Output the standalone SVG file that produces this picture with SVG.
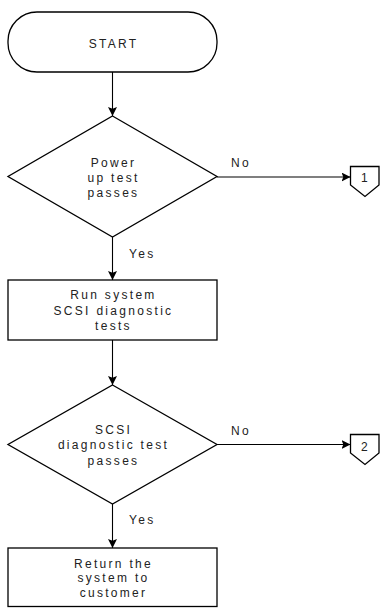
<svg xmlns="http://www.w3.org/2000/svg" width="380" height="608" viewBox="0 0 380 608">
<style>
.s{fill:#fff;stroke:#000;stroke-width:1.3}
.t{font-family:"Liberation Sans",Arial,sans-serif;font-size:12px;letter-spacing:2.3px;fill:#222;text-anchor:middle}
.l{font-family:"Liberation Sans",Arial,sans-serif;font-size:12px;letter-spacing:2.3px;fill:#222}
.c{fill:none;stroke:#000;stroke-width:1.1}
</style>
<defs>
<marker id="a" viewBox="0 0 10 10" refX="10" refY="5" markerWidth="9" markerHeight="9" markerUnits="userSpaceOnUse" orient="auto">
<path d="M0,0 L10,5 L0,10 L2,5 Z" fill="#000"/>
</marker>
</defs>
<g id="connectors">
<line class="c" x1="112.5" y1="72" x2="112.5" y2="116" marker-end="url(#a)"/>
<line class="c" x1="112.5" y1="237" x2="112.5" y2="280" marker-end="url(#a)"/>
<line class="c" x1="112.5" y1="340" x2="112.5" y2="385" marker-end="url(#a)"/>
<line class="c" x1="112.5" y1="504" x2="112.5" y2="548" marker-end="url(#a)"/>
<line class="c" x1="217" y1="177" x2="350.5" y2="177" marker-end="url(#a)"/>
<line class="c" x1="217" y1="444.5" x2="350.5" y2="444.5" marker-end="url(#a)"/>
<text class="l" x="129" y="258">Yes</text>
<text class="l" x="129" y="524">Yes</text>
<text class="l" x="231" y="167">No</text>
<text class="l" x="231" y="435">No</text>
</g>
<g id="start">
<rect class="s" x="8" y="12" width="209" height="60" rx="29" ry="29"/>
<text class="t" x="113.5" y="48">START</text>
</g>
<g id="decision1">
<polygon class="s" points="112.5,116 217,176.5 112.5,237 8,176.5"/>
<text class="t" x="113.5" y="167">Power</text>
<text class="t" x="113.5" y="182">up test</text>
<text class="t" x="113.5" y="197">passes</text>
</g>
<g id="connector1">
<polygon class="s" points="350.5,166.5 379,166.5 379,185 365,196.5 350.5,185"/>
<text class="t" x="365.5" y="182">1</text>
</g>
<g id="process1">
<rect class="s" x="8" y="280" width="209" height="60"/>
<text class="t" x="113.5" y="299">Run system</text>
<text class="t" x="113.5" y="315">SCSI diagnostic</text>
<text class="t" x="113.5" y="330">tests</text>
</g>
<g id="decision2">
<polygon class="s" points="112.5,385 217,444.5 112.5,504 8,444.5"/>
<text class="t" x="113.5" y="434">SCSI</text>
<text class="t" x="113.5" y="449">diagnostic test</text>
<text class="t" x="113.5" y="465">passes</text>
</g>
<g id="connector2">
<polygon class="s" points="350.5,434.5 379,434.5 379,453 365,464.5 350.5,453"/>
<text class="t" x="365.5" y="451">2</text>
</g>
<g id="process2">
<rect class="s" x="8" y="548" width="209" height="58.5"/>
<text class="t" x="113.5" y="568">Return the</text>
<text class="t" x="113.5" y="582">system to</text>
<text class="t" x="113.5" y="597">customer</text>
</g>
</svg>
